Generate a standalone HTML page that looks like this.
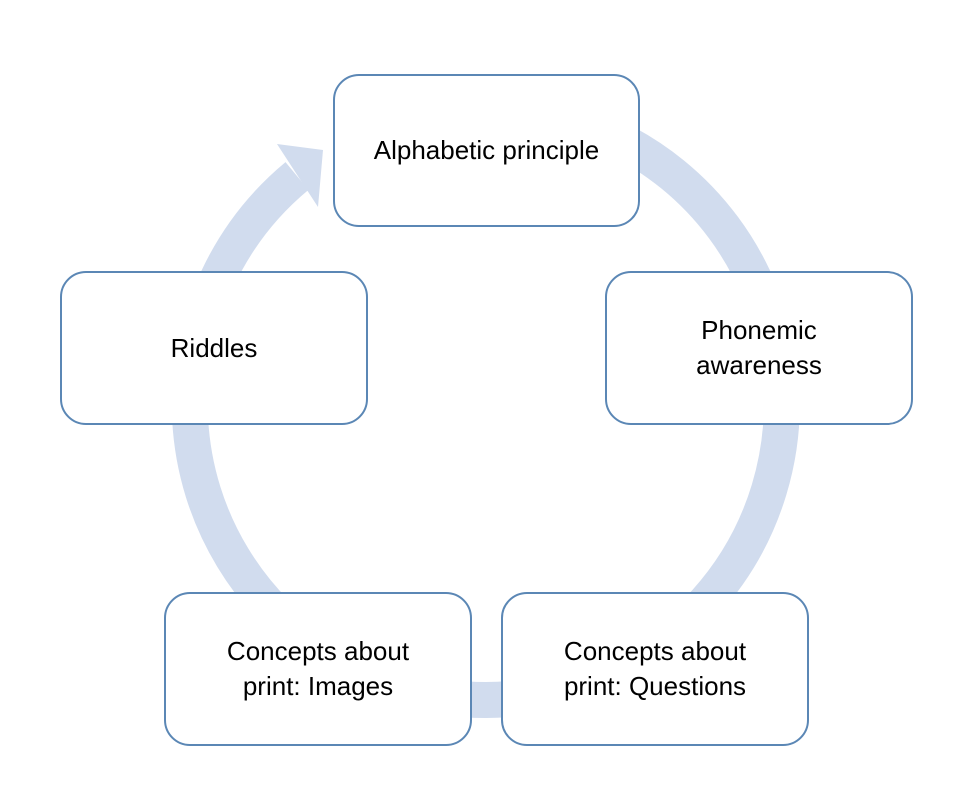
<!DOCTYPE html>
<html><head><meta charset="utf-8"><style>
html,body{margin:0;padding:0;background:#fff;}
.b{position:absolute;width:303px;height:149px;border:2px solid #5b87b5;border-radius:26px;background:#fff;box-sizing:border-box;display:flex;align-items:center;justify-content:center;text-align:center;font-family:"Liberation Sans",sans-serif;font-size:26px;line-height:35px;color:#000;}
</style></head><body>
<div style="position:relative;width:979px;height:803px;overflow:hidden">
<svg width="979" height="803" style="position:absolute;left:0;top:0">
<path d="M 297 176 A 296 296 0 1 0 486 108" fill="none" stroke="#d1dcee" stroke-width="36"/>
<polygon points="277,144 323,150 318,207" fill="#d1dcee"/>
</svg>
<div class="b" style="left:333px;top:74px;width:307px;height:153px">Alphabetic principle</div>
<div class="b" style="left:605px;top:271px;width:308px;height:154px">Phonemic<br>awareness</div>
<div class="b" style="left:501px;top:592px;width:308px;height:154px">Concepts about<br>print: Questions</div>
<div class="b" style="left:164px;top:592px;width:308px;height:154px">Concepts about<br>print: Images</div>
<div class="b" style="left:60px;top:271px;width:308px;height:154px">Riddles</div>
</div>
</body></html>
